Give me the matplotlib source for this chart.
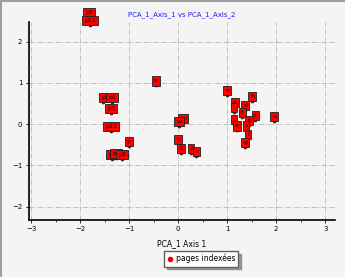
import matplotlib.pyplot as plt
from matplotlib.lines import Line2D
from matplotlib.ticker import MultipleLocator

# data
labels = ['p6', 'p11', 'x', 'e', 'h', 'a', '.', 'd', 'f', 't', 'n', '.', 'o', 'b', 'i',
          'l', 'g', 'm', 'w', 's', 'k', 'j', 'r', 'p', 'p1', 'p8', 'p13', 'y',
          'p3', 'p5', 'p2']
axis1 = [-1.82, -1.80, -0.45, 1.00, 1.51, 1.16, 1.14, 1.37, 1.31, 1.57, 1.96, 1.14, 1.20,
         1.45, 1.39, 1.43, 1.37, 0.10, 0.02, 0.00, 0.06, 0.27, 0.37, -1.53, -1.35,
         -1.37, -1.37, -1.00, -1.35, -1.27, -1.14]
axis2 = [2.59, 2.40, 0.94, 0.70, 0.56, 0.41, 0.29, 0.34, 0.17, 0.10, 0.07, 0.00, -0.15,
         -0.02, -0.15, -0.36, -0.56, 0.02, -0.05, -0.48, -0.70, -0.70, -0.77, 0.53, 0.53,
         0.27, -0.17, -0.53, -0.85, -0.82, -0.85]

bg = '#f4f4f4'
fig = plt.figure(figsize=(3.45, 2.77), dpi=100, facecolor=bg)
ax = fig.add_axes([0.083, 0.206, 0.888, 0.715], facecolor=bg)

ax.set_xlim(-3.05, 3.2)
ax.set_ylim(-2.32, 2.48)
ax.xaxis.set_major_locator(MultipleLocator(1))
ax.xaxis.set_minor_locator(MultipleLocator(0.5))
ax.yaxis.set_major_locator(MultipleLocator(1))
ax.grid(True, which='major', color='#b8b8b8', linestyle='-.', linewidth=0.6)
for s in ['top', 'right']:
    ax.spines[s].set_visible(False)
for s in ['left', 'bottom']:
    ax.spines[s].set_linewidth(1.2)
ax.tick_params(labelsize=5, length=2.5, width=0.6, pad=2)
ax.tick_params(which='minor', length=1.5, width=0.5)

# points and label boxes
ax.scatter(axis1, axis2, s=3, color='#303030', zorder=3, clip_on=False)
for lab, x, y in zip(labels, axis1, axis2):
    ax.annotate(lab, (x, y), xytext=(0, 1.5), textcoords='offset points',
                ha='center', va='bottom', fontsize=4.5, color='black',
                annotation_clip=False, zorder=4,
                bbox=dict(boxstyle='square,pad=0.35', fc='#ff0000', ec='#202020', lw=0.6))

ax.set_title('PCA_1_Axis_1 vs PCA_1_Axis_2', fontsize=5, color='#1a1aff', pad=4)
ax.set_xlabel('PCA_1 Axis 1', fontsize=5.5, labelpad=5)

handle = Line2D([], [], marker='o', linestyle='', color='#ee0000', markersize=3)
leg = fig.legend([handle], ['pages indexées'], loc='center', bbox_to_anchor=(0.583, 0.066),
                 fontsize=5.5, frameon=True, fancybox=False, shadow=True,
                 handletextpad=0.3, borderpad=0.4, handlelength=0.8)
leg.get_frame().set_edgecolor('#606060')
leg.get_frame().set_facecolor('white')

# gray border on the left and top
fig.add_artist(Line2D([0.003, 0.003], [0, 1], color='#a0a0a0', lw=1.5))
fig.add_artist(Line2D([0, 1], [0.997, 0.997], color='#a0a0a0', lw=1.5))

plt.savefig('out.png', dpi=100, facecolor=bg)
